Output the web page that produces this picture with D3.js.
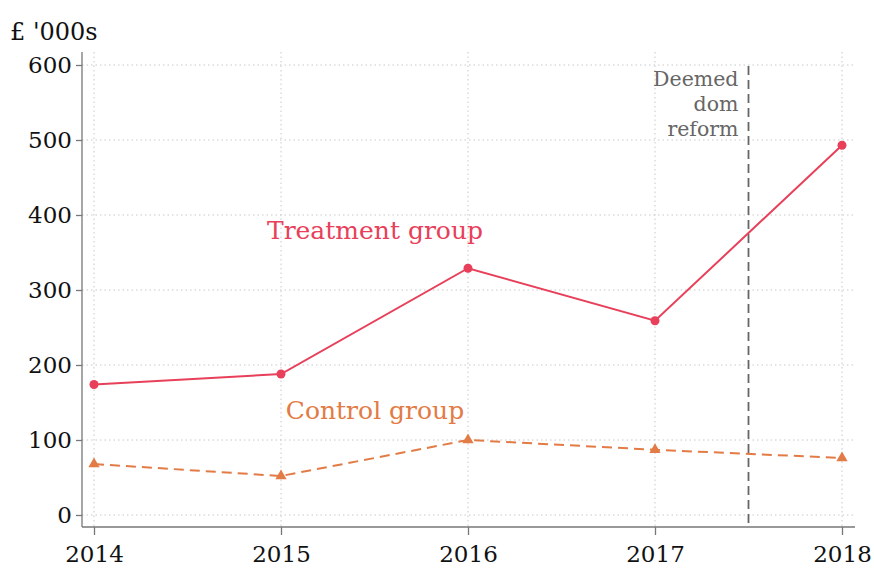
<!DOCTYPE html>
<html><head><meta charset="utf-8">
<script src="https://cdn.jsdelivr.net/npm/d3@7"></script>
<style>body{margin:0;background:#fff}</style>
</head><body>
<svg id="c" width="874" height="576"></svg>
<script>
const years = [2014, 2015, 2016, 2017, 2018];
const treatment = [174, 188, 329, 259, 493];
const control = [68, 52, 100, 87, 76];
const yTicks = [0, 100, 200, 300, 400, 500, 600];
const reformYear = 2017.5;
const reformLabel = ["Deemed", "dom", "reform"];

const svg = d3.select("#c");
const font = "DejaVu Serif";
const x = d3.scaleLinear().domain([2014, 2018]).range([94, 842]);
const y = d3.scaleLinear().domain([0, 600]).range([515, 65]);
const pLeft = 82, pBottom = 527, pRight = 855, pTop = 52;
const tColor = "#e8405a", cColor = "#e27b45";

// gridlines
svg.append("g").selectAll("line").data(yTicks).join("line")
  .attr("x1", pLeft).attr("x2", pRight).attr("y1", d => y(d)).attr("y2", d => y(d))
  .attr("stroke", "#c8c8c8").attr("stroke-width", 1).attr("stroke-dasharray", "1.5,3");
svg.append("g").selectAll("line").data(years).join("line")
  .attr("y1", pTop).attr("y2", pBottom).attr("x1", d => x(d)).attr("x2", d => x(d))
  .attr("stroke", "#c8c8c8").attr("stroke-width", 1).attr("stroke-dasharray", "1.5,3");

// axes
const yAxis = svg.append("g").attr("transform", `translate(${pLeft},0)`)
  .call(d3.axisLeft(y).tickValues(yTicks).tickSize(6).tickPadding(4));
yAxis.select(".domain").remove();
svg.append("line").attr("x1", pLeft).attr("x2", pLeft).attr("y1", pTop).attr("y2", pBottom).attr("stroke", "#777").attr("stroke-width", 1.3);
const xAxis = svg.append("g").attr("transform", `translate(0,${pBottom})`)
  .call(d3.axisBottom(x).tickValues(years).tickFormat(d3.format("d")).tickSize(8).tickPadding(11));
xAxis.select(".domain").remove();
svg.append("line").attr("x1", pLeft).attr("x2", pRight).attr("y1", pBottom).attr("y2", pBottom).attr("stroke", "#777").attr("stroke-width", 1.3);
svg.selectAll(".tick line").attr("stroke", "#777").attr("stroke-width", 1.3);
svg.selectAll(".tick text").attr("font-family", font).attr("font-size", 23).attr("fill", "#111");

// reform line
svg.append("line").attr("x1", x(reformYear)).attr("x2", x(reformYear)).attr("y1", pTop + 14).attr("y2", pBottom)
  .attr("stroke", "#666").attr("stroke-width", 1.8).attr("stroke-dasharray", "9,5");
svg.append("text").attr("x", x(reformYear) - 10).attr("y", 86).attr("text-anchor", "end")
  .attr("font-family", font).attr("font-size", 20.5).attr("fill", "#666")
  .selectAll("tspan").data(reformLabel).join("tspan")
  .attr("x", x(reformYear) - 10).attr("dy", (d, i) => i === 0 ? 0 : 25).text(d => d);

const line = d3.line().x((d, i) => x(years[i])).y(d => y(d));
svg.append("path").datum(control).attr("d", line).attr("fill", "none")
  .attr("stroke", cColor).attr("stroke-width", 2).attr("stroke-dasharray", "10,6");
svg.append("path").datum(treatment).attr("d", line).attr("fill", "none")
  .attr("stroke", tColor).attr("stroke-width", 2);
svg.append("g").selectAll("circle").data(treatment).join("circle")
  .attr("cx", (d, i) => x(years[i])).attr("cy", d => y(d)).attr("r", 4.5).attr("fill", tColor);
const tri = d3.symbol().type(d3.symbolTriangle).size(55);
svg.append("g").selectAll("path").data(control).join("path")
  .attr("d", tri).attr("transform", (d, i) => `translate(${x(years[i])},${y(d)})`).attr("fill", cColor);

// labels
svg.append("text").attr("x", 375).attr("y", 239).attr("text-anchor", "middle")
  .attr("font-family", font).attr("font-size", 25).attr("fill", tColor).text("Treatment group");
svg.append("text").attr("x", 375).attr("y", 419).attr("text-anchor", "middle")
  .attr("font-family", font).attr("font-size", 25).attr("fill", cColor).text("Control group");
svg.append("text").attr("x", 10).attr("y", 40)
  .attr("font-family", font).attr("font-size", 24).attr("fill", "#111").text("£ '000s");
</script>
</body></html>
